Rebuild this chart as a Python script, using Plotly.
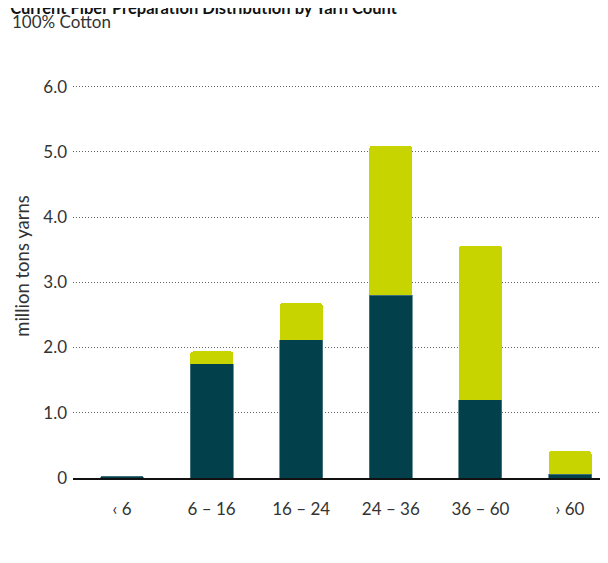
import plotly.graph_objects as go

categories = ["‹ 6", "6 – 16", "16 – 24", "24 – 36", "36 – 60", "› 60"]
series_dark = [0.03, 1.75, 2.12, 2.80, 1.20, 0.06]
series_total = [0.03, 1.94, 2.68, 5.09, 3.56, 0.41]
series_light = [round(t - d, 2) for t, d in zip(series_total, series_dark)]
tick_vals = [0, 1, 2, 3, 4, 5, 6]
tick_text = ["0", "1.0", "2.0", "3.0", "4.0", "5.0", "6.0"]

FONT = "Lato"
DARK = "#02404c"
LIGHT = "#c8d400"

x_idx = list(range(len(categories)))

fig = go.Figure()
fig.add_trace(go.Bar(x=x_idx, y=series_dark,
                     marker=dict(color=DARK, line=dict(color="#4f7c86", width=0.8)),
                     width=0.48, showlegend=False))
fig.add_trace(go.Bar(x=x_idx, y=series_light,
                     marker=dict(color=LIGHT, line=dict(width=0)),
                     width=0.48, showlegend=False))

fig.update_layout(
    width=608, height=563,
    barmode="stack",
    barcornerradius=3,
    paper_bgcolor="white", plot_bgcolor="white",
    margin=dict(l=65, r=0, t=46, b=93, autoexpand=False),
    font=dict(family=FONT, color="#222222"),
    title=dict(text="<b>Current Fiber Preparation Distribution by Yarn Count</b>",
               x=0.0035, xanchor="left", y=1.0, yanchor="middle",
               font=dict(size=16.5, color="#111111", family=FONT)),
    annotations=[dict(text="100% Cotton", xref="paper", yref="paper", x=-0.116, y=1.0755,
                      xanchor="left", yanchor="middle", showarrow=False,
                      font=dict(size=17, color="#333333", family=FONT))],
    xaxis=dict(tickmode="array", tickvals=x_idx, ticktext=categories,
               range=[-0.547, 5.513], showgrid=False, zeroline=False,
               showline=True, linecolor="#111111", linewidth=1.5,
               ticks="", ticklabelstandoff=15, automargin=False,
               tickfont=dict(size=17, color="#333333", family=FONT)),
    yaxis=dict(range=[0, 6.5], tickmode="array", tickvals=tick_vals, ticktext=tick_text,
               showgrid=True, gridcolor="#666666", griddash="1px,2px", gridwidth=1,
               zeroline=False, showline=False, ticks="", ticklabelstandoff=5,
               automargin=False,
               tickfont=dict(size=17, color="#333333", family=FONT),
               title=dict(text="million tons yarns", standoff=8,
                          font=dict(size=18.5, color="#333333", family=FONT))),
)

fig.write_html("out.html")
